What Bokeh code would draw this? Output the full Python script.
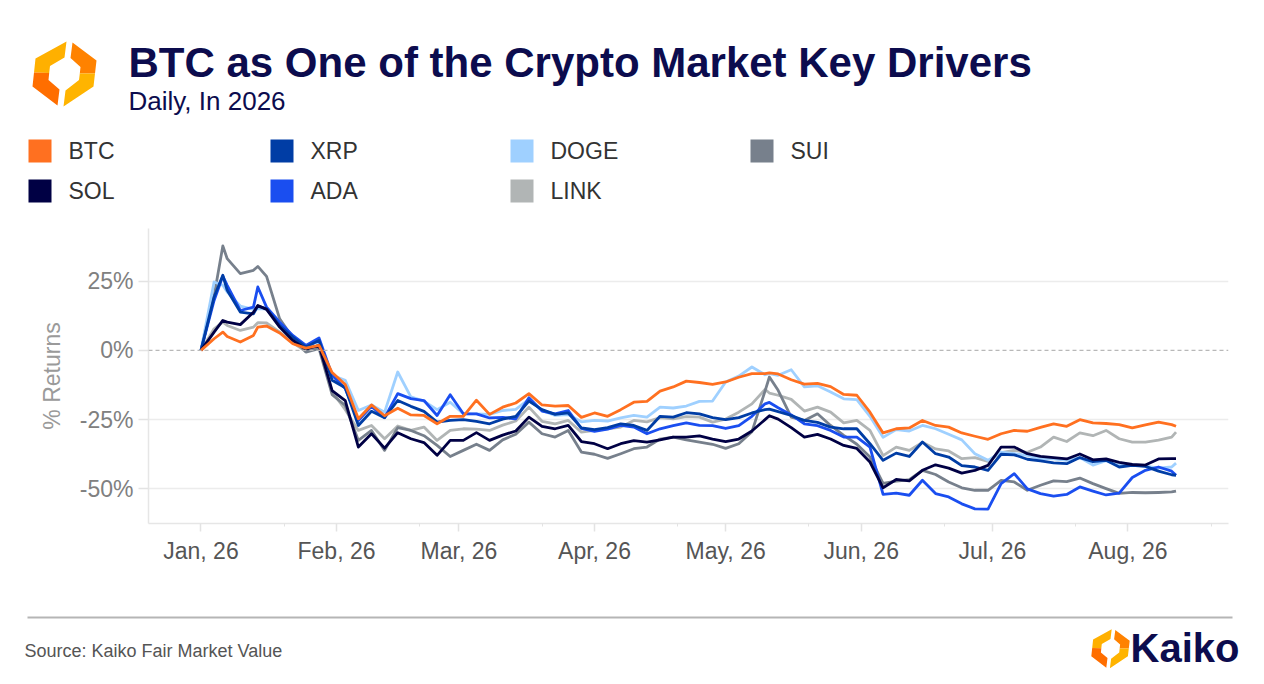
import pandas as pd

from bokeh.core.properties import value
from bokeh.embed import file_html
from bokeh.layouts import column
from bokeh.models import (ColumnDataSource, DatetimeTickFormatter, FixedTicker,
                          PrintfTickFormatter, Range1d, Span)
from bokeh.plotting import figure
from bokeh.resources import INLINE

FONT = "Liberation Sans"
NAVY = "#0c0c4e"

title = "BTC as One of the Crypto Market Key Drivers"
subtitle = "Daily, In 2026"
source_note = "Source: Kaiko Fair Market Value"
brand = "Kaiko"

# days since 1 Jan 2026
days = [0, 3, 5, 6, 9, 12, 13, 15, 18, 21,
        24, 27, 30, 33, 36, 39, 42, 45, 48, 51,
        54, 57, 60, 63, 66, 69, 72, 75, 78, 81,
        84, 87, 90, 93, 96, 99, 102, 105, 108, 111,
        114, 117, 120, 123, 126, 129, 130, 132, 135, 138,
        141, 144, 147, 150, 153, 156, 159, 162, 165, 168,
        171, 174, 177, 180, 183, 186, 189, 192, 195, 198,
        201, 204, 207, 210, 213, 216, 219, 222, 223]

# % returns since 1 Jan
btc = [0, 4.2, 6.6, 5.0, 3.0, 5.4, 8.4, 8.8, 6.3, 2.4,
       0.8, 1.8, -8.0, -12.3, -24.7, -19.7, -23.6, -20.9, -23.3, -23.5,
       -26.5, -23.8, -23.8, -18.0, -23.1, -20.5, -19.0, -15.6, -19.7, -20.1,
       -19.9, -24.2, -22.6, -23.8, -21.4, -18.7, -18.4, -14.7, -13.2, -11.1,
       -11.6, -12.3, -11.4, -9.7, -8.4, -8.4, -8.1, -8.5, -10.6, -12.2,
       -11.9, -13.1, -15.9, -16.2, -22.3, -29.8, -28.3, -28.0, -25.3, -27.1,
       -27.7, -29.8, -31.0, -32.1, -30.1, -28.9, -29.2, -27.8, -26.5, -27.4,
       -25.0, -26.2, -26.4, -26.8, -28.0, -26.9, -25.9, -26.8, -27.4]

sol = [0, 6.6, 10.8, 10.2, 9.3, 13.8, 16.2, 14.8, 8.4, 3.6,
       0.4, 1.8, -14.5, -18.1, -34.9, -30.1, -35.3, -29.7, -31.9, -33.3,
       -37.9, -32.5, -32.5, -29.7, -32.5, -30.6, -29.1, -24.1, -27.4, -28.3,
       -27.1, -32.9, -33.7, -35.5, -33.7, -32.6, -33.1, -32.3, -31.3, -31.3,
       -30.9, -32.0, -32.9, -32.0, -29.1, -25.0, -23.6, -24.8, -27.9, -31.3,
       -30.3, -32.0, -34.3, -35.4, -40.3, -49.6, -46.6, -47.1, -43.3, -41.3,
       -42.5, -44.3, -43.3, -41.5, -34.9, -34.9, -37.3, -38.3, -38.7, -39.2,
       -37.4, -39.5, -39.2, -40.4, -41.2, -41.4, -39.2, -39.1, -39.1]

xrp = [0, 19.3, 27.1, 21.7, 13.8, 13.2, 16.0, 15.0, 9.0, 4.8,
       1.2, 3.6, -10.8, -13.5, -27.1, -22.0, -24.3, -18.1, -20.2, -22.0,
       -25.9, -25.3, -25.0, -25.6, -26.5, -24.8, -23.8, -18.3, -21.4, -23.1,
       -22.6, -28.0, -28.6, -27.9, -26.5, -27.1, -28.9, -23.8, -24.1, -22.5,
       -22.9, -24.3, -25.0, -24.3, -22.6, -21.4, -21.2, -22.1, -23.5, -25.3,
       -26.0, -27.7, -28.3, -28.3, -33.7, -39.7, -37.1, -38.3, -33.1, -37.3,
       -38.5, -41.6, -42.1, -43.3, -37.5, -37.7, -39.3, -39.9, -40.6, -40.9,
       -38.7, -40.2, -39.7, -42.1, -41.5, -41.9, -43.6, -44.9, -45.1]

ada = [0, 18.0, 26.8, 23.5, 14.4, 15.6, 22.9, 15.6, 10.2, 5.4,
       1.8, 4.5, -9.0, -13.8, -25.3, -20.2, -24.3, -15.6, -17.4, -18.1,
       -23.5, -16.0, -22.9, -22.9, -24.4, -24.2, -24.7, -17.1, -21.9, -22.9,
       -21.7, -28.2, -29.2, -28.4, -27.1, -27.7, -30.1, -28.3, -27.2, -26.2,
       -27.1, -27.2, -28.2, -27.2, -23.8, -19.3, -18.8, -20.7, -23.3, -26.5,
       -27.2, -28.9, -31.3, -31.3, -34.9, -52.0, -51.5, -52.3, -46.9, -51.7,
       -52.9, -55.4, -57.2, -57.3, -48.1, -44.5, -50.0, -51.7, -52.6, -52.0,
       -49.3, -50.8, -52.2, -51.5, -45.9, -43.3, -42.1, -43.6, -45.1]

doge = [0, 24.7, 23.5, 21.1, 16.0, 14.8, 15.0, 15.0, 10.2, 4.2,
        1.6, 3.2, -9.0, -10.8, -21.7, -19.7, -22.3, -7.8, -16.8, -18.3,
        -21.4, -18.7, -22.9, -22.9, -23.1, -21.7, -21.3, -17.7, -21.7, -23.5,
        -23.2, -25.8, -25.3, -25.5, -24.4, -23.5, -24.1, -20.5, -20.8, -20.1,
        -18.4, -18.3, -11.4, -9.3, -6.0, -8.8, -8.4, -9.0, -7.0, -13.2,
        -12.8, -15.0, -17.5, -17.8, -23.8, -31.4, -28.6, -29.1, -27.1, -28.3,
        -30.3, -32.3, -37.3, -39.7, -36.7, -37.3, -37.9, -39.1, -39.2, -39.7,
        -38.7, -41.4, -39.8, -41.5, -41.3, -41.8, -42.5, -42.1, -40.7]

link = [0, 7.8, 10.2, 9.0, 7.2, 8.4, 10.0, 9.9, 6.6, 2.8,
        -0.4, 1.2, -15.0, -21.4, -28.9, -27.1, -31.9, -27.3, -28.9, -27.7,
        -32.5, -28.9, -28.3, -28.4, -28.9, -27.0, -25.5, -20.5, -25.6, -26.5,
        -25.3, -29.5, -28.9, -28.3, -27.7, -25.3, -25.8, -24.3, -24.7, -23.9,
        -24.1, -25.9, -24.8, -22.3, -19.3, -14.1, -15.4, -16.2, -17.7, -21.9,
        -20.5, -22.3, -26.2, -25.3, -28.9, -38.0, -34.9, -36.1, -33.2, -35.6,
        -36.3, -39.1, -38.7, -40.1, -36.9, -36.1, -36.8, -34.9, -31.3, -32.9,
        -29.8, -30.8, -28.9, -31.9, -33.1, -33.1, -32.4, -31.3, -29.5]

sui = [0, 19.6, 37.7, 33.1, 27.7, 28.9, 30.3, 26.7, 11.4, 4.5,
       -0.6, 0.6, -16.0, -19.9, -32.5, -28.9, -36.1, -27.9, -28.9, -30.8,
       -34.3, -38.3, -36.1, -33.9, -36.1, -32.3, -30.3, -25.9, -30.1, -31.3,
       -28.9, -36.7, -37.5, -39.0, -37.3, -35.5, -34.9, -32.0, -31.3, -32.3,
       -33.1, -33.9, -35.4, -33.7, -29.4, -14.7, -9.6, -14.4, -24.1, -25.3,
       -22.9, -27.1, -30.7, -33.9, -38.5, -48.0, -47.2, -46.7, -43.3, -44.8,
       -47.5, -49.6, -50.5, -50.5, -46.9, -47.5, -50.5, -48.7, -47.1, -47.4,
       -46.1, -48.1, -49.9, -51.6, -51.3, -51.4, -51.3, -51.1, -50.8]

names = ["BTC", "SOL", "XRP", "ADA", "DOGE", "LINK", "SUI"]
series = [btc, sol, xrp, ada, doge, link, sui]
colors = ["#ff7020", "#000044", "#003da5", "#1a4ef0", "#9fd0ff", "#b1b5b5", "#77808c"]

y_ticks = [-50, -25, 0, 25]
month_starts = ["2026-01-01", "2026-02-01", "2026-03-01", "2026-04-01",
                "2026-05-01", "2026-06-01", "2026-07-01", "2026-08-01"]
month_minor = ["2026-01-20", "2026-02-20", "2026-03-20", "2026-04-20",
               "2026-05-20", "2026-06-20", "2026-07-20", "2026-08-20"]


def ms(s):
    return pd.Timestamp(s).timestamp() * 1000


dates = pd.Timestamp("2026-01-01") + pd.to_timedelta(days, unit="D")
src = ColumnDataSource(data=dict(date=dates, **{n: v for n, v in zip(names, series)}))

W = 1264
HDR_H, MAIN_H, FTR_H = 218, 375, 91


def blank(h):
    # a plain canvas in pixel units, y pointing down
    f = figure(width=W, height=h, x_range=Range1d(0, W), y_range=Range1d(h, 0),
               toolbar_location=None, output_backend="svg", min_border=0,
               x_axis_location=None, y_axis_location=None, outline_line_color=None)
    f.grid.visible = False
    return f


LOGO = [
    ([66, 35, 33.5, 48.7, 49.5, 64], [41, 58, 72, 72.5, 65.5, 57], "#ffb000"),
    ([33.5, 32, 57, 59, 48, 48.7], [72, 86, 105, 89, 79.5, 72.5], "#ff6e00"),
    ([72, 96, 94.5, 79.3, 80, 70], [42, 60, 73, 73, 66.5, 57.5], "#ff8200"),
    ([94.5, 93, 63, 65, 78.5, 79.3], [73, 86, 106, 90, 79.5, 73], "#ffb400"),
]


def logo(f, cx, cy, s):
    f.patches([[cx + s * (x - 64) for x in xs] for xs, _, _ in LOGO],
              [[cy + s * (y - 73) for y in ys] for _, ys, _ in LOGO],
              fill_color=[c for _, _, c in LOGO], line_color=None)


def label(f, x, y, s, size, color, bold=False):
    f.text(x=[x], y=[y], text=[s], text_font=value(FONT), text_font_size=size,
           text_color=color, text_font_style="bold" if bold else "normal",
           text_baseline="middle")


# ---- header: logo, title, legend
hdr = blank(HDR_H)
logo(hdr, 64, 73, 1.0)
label(hdr, 128, 62, title, "42px", NAVY, bold=True)
label(hdr, 128, 100, subtitle, "26px", NAVY)

col_left = [28, 270, 510, 750]
row_y = [150.5, 190.5]
lx = [col_left[i // 2] for i in range(len(names))]
ly = [row_y[i % 2] for i in range(len(names))]
hdr.rect(x=[x + 11.5 for x in lx], y=ly, width=23, height=23, fill_color=colors, line_color=None)
hdr.text(x=[x + 40 for x in lx], y=ly, text=names, text_font=value(FONT), text_font_size="23px",
         text_color="#333333", text_baseline="middle")

# ---- main chart
p = figure(width=W, height=MAIN_H, x_axis_type="datetime",
           x_range=Range1d(pd.Timestamp("2025-12-20"), pd.Timestamp("2026-08-24")),
           y_range=Range1d(-62.5, 44), toolbar_location=None, output_backend="svg",
           min_border_left=148, min_border_right=36, min_border_top=10, min_border_bottom=70,
           outline_line_color=None)

draw_order = ["LINK", "SUI", "DOGE", "ADA", "XRP", "SOL", "BTC"]
for n in draw_order:
    p.line("date", n, source=src, line_color=colors[names.index(n)], line_width=2.8,
           line_join="round")

p.add_layout(Span(location=0, dimension="width", line_color="#b8b8b8", line_width=1.3,
                  line_dash="4 3"))

p.xgrid.visible = False
p.ygrid.ticker = FixedTicker(ticks=[t for t in y_ticks if t != 0])
p.ygrid.grid_line_color = "#ececec"
p.ygrid.grid_line_width = 1.5

p.yaxis.ticker = FixedTicker(ticks=y_ticks)
p.yaxis.formatter = PrintfTickFormatter(format="%d%%")
p.yaxis.axis_label = "% Returns"
p.yaxis.axis_label_text_font = FONT
p.yaxis.axis_label_text_font_size = "23px"
p.yaxis.axis_label_text_font_style = "normal"
p.yaxis.axis_label_text_color = "#9a9a9a"
p.yaxis.axis_label_standoff = 12
p.yaxis.major_label_text_color = "#808080"
p.yaxis.major_tick_out = 10
p.yaxis.major_tick_in = 0

p.xaxis.ticker = FixedTicker(ticks=[ms(d) for d in month_starts],
                             minor_ticks=[ms(d) for d in month_minor])
p.xaxis.formatter = DatetimeTickFormatter(days="%b, %y", months="%b, %y", years="%b, %y")
p.xaxis.major_label_text_color = "#555555"
p.xaxis.major_label_standoff = 6
p.xaxis.major_tick_out = 8
p.xaxis.major_tick_in = 0
p.xaxis.minor_tick_out = 3
p.xaxis.minor_tick_in = 0

for ax in (p.xaxis, p.yaxis):
    ax.major_label_text_font = FONT
    ax.major_label_text_font_size = "23px"
    ax.axis_line_color = "#e6e6e6"
    ax.axis_line_width = 1.5
    ax.major_tick_line_color = "#e3e3e3"
    ax.major_tick_line_width = 1.5
    ax.minor_tick_line_color = "#e3e3e3"
p.yaxis.minor_tick_line_color = None

# ---- footer: rule, source, brand
ftr = blank(FTR_H)
ftr.line(x=[27, 1232], y=[24, 24], line_color="#b5b5b5", line_width=2)
label(ftr, 24, 57, source_note, "18px", "#555555")
logo(ftr, 1110, 55, 0.6)
label(ftr, 1130, 54, brand, "40px", NAVY, bold=True)

# nested columns keep the header/footer canvases from being frame-aligned with the chart
layout = column(column(hdr), p, column(ftr))
open("out.html", "w").write(file_html(layout, INLINE))
